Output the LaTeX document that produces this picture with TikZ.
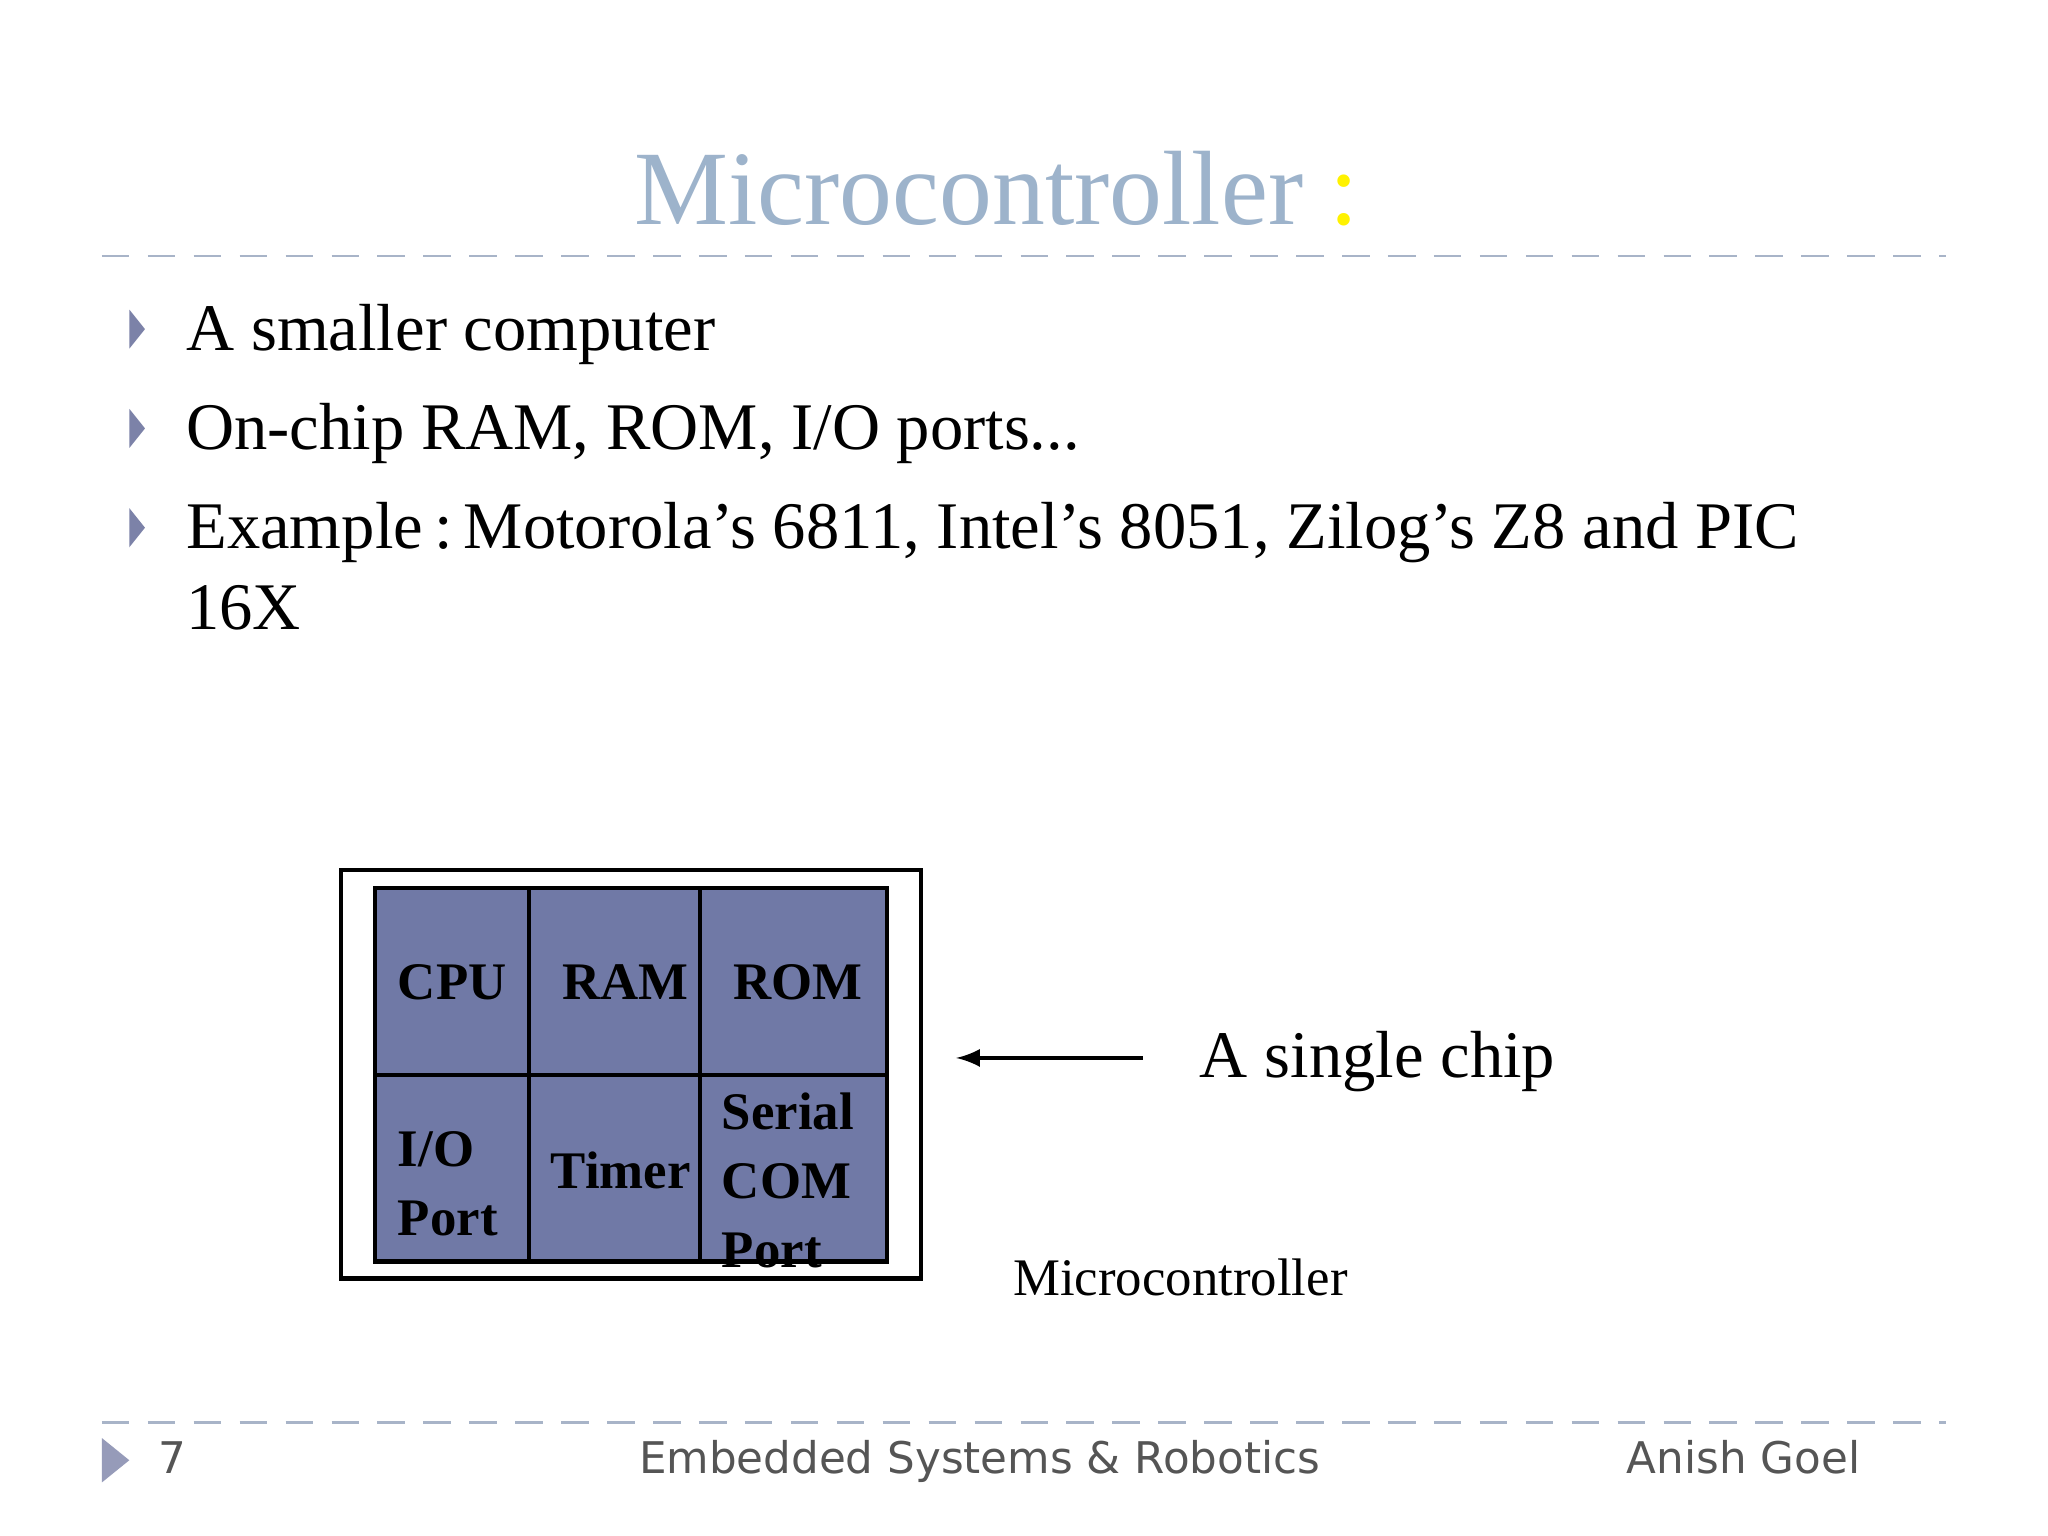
\documentclass[tikz,border=0pt]{standalone}
\usepackage{fontspec}
\setmainfont{Liberation Serif}
\newfontfamily\foot{DejaVu Sans}
\definecolor{titlec}{HTML}{9DB3CB}
\definecolor{chipc}{HTML}{7079A6}
\definecolor{bulc}{HTML}{7C82A8}
\definecolor{linec}{HTML}{A8B4C8}
\definecolor{footc}{HTML}{555555}
\begin{document}
\begin{tikzpicture}[x=0.01cm,y=-0.01cm,
  bul/.style={fill=bulc,draw=none},
  body/.style={anchor=base west,inner sep=0,font=\fontsize{14.5}{17}\selectfont},
  cell/.style={font=\bfseries\fontsize{11.5}{13}\selectfont,inner sep=0,align=left},
  sepline/.style={linec,dash pattern=on 6pt off 4pt,line width=0.6pt}]
\useasboundingbox[fill=white] (0,0) rectangle (1568,1176);
\node[anchor=base,font=\fontsize{23}{26}\selectfont,text=titlec] (title) at (763,172) {Microcontroller \textcolor{yellow}{:}};
\draw[sepline] (78,196) -- (1490,196);
\draw[sepline] (78,1089) -- (1490,1089);
\foreach \y in {252,328,404}{\fill[bul] (99,\y-15) -- (111,\y) -- (99,\y+15) -- cycle;}
\node[body] (b1) at (142,268) {A smaller computer};
\node[body] (b2) at (142,344) {On-chip RAM, ROM, I/O ports...};
\node[body] (b3) at (142,420) {Example\,:\,Motorola’s 6811, Intel’s 8051, Zilog’s Z8 and PIC};
\node[body] (b4) at (142,482) {16X};
\draw[line width=1pt] (261,666) rectangle (705,979);
\draw[fill=chipc,line width=1pt] (287,680) rectangle (679,966);
\draw[line width=1pt] (405,680) -- (405,966) (536,680) -- (536,966) (287,823) -- (679,823);
\node[cell,anchor=west] (cpu) at (304,752) {CPU};
\node[cell,anchor=west] (ram) at (430,752) {RAM};
\node[cell,anchor=west] (rom) at (561,752) {ROM};
\node[cell,anchor=west] (io) at (304,906) {I/O\\[2pt]Port};
\node[cell,anchor=west] (timer) at (421,896) {Timer};
\node[cell,anchor=west] (ser) at (552,904) {Serial\\[2pt]COM\\[2pt]Port};
\coordinate (chipr) at (732,810);
\node[anchor=west,font=\fontsize{14.5}{17}\selectfont,inner sep=0] (single) at (918,813) {A single chip};
\draw[-latex,line width=0.8pt] (875,810) -- (chipr);
\node[anchor=base west,font=\fontsize{11.5}{13}\selectfont,inner sep=0] (mc) at (775,992) {Microcontroller};
\fill[bulc!80] (78,1101) -- (99,1118) -- (78,1135) -- cycle;
\node[anchor=base west,font=\foot\fontsize{9.5}{11}\selectfont,text=footc,inner sep=0] (pg) at (121,1128) {7};
\node[anchor=base,font=\foot\fontsize{9.5}{11}\selectfont,text=footc,inner sep=0] (ft) at (750,1128) {Embedded Systems \& Robotics};
\node[anchor=base east,font=\foot\fontsize{9.5}{11}\selectfont,text=footc,inner sep=0] (au) at (1425,1128) {Anish Goel};
\end{tikzpicture}
\end{document}
